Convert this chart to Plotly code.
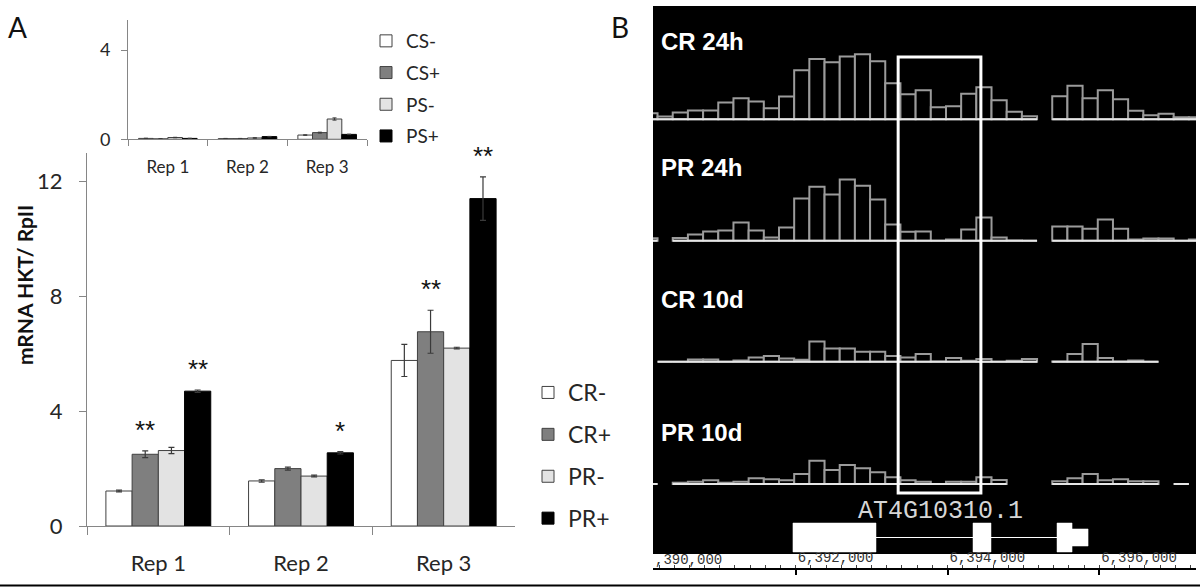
import plotly.graph_objects as go

W, H = 1200, 587

# ---------------- Panel A data ----------------
REPS = ["Rep 1", "Rep 2", "Rep 3"]
Y_TICKS_MAIN = [0, 4, 8, 12]
Y_TICKS_INSET = [0, 4]

ROOT_NAMES = ["CR-", "CR+", "PR-", "PR+"]
CR_MINUS = [1.22, 1.57, 5.77]
CR_MINUS_ERR = [0.03, 0.04, 0.56]
CR_PLUS = [2.50, 2.00, 6.77]
CR_PLUS_ERR = [0.12, 0.05, 0.75]
PR_MINUS = [2.63, 1.74, 6.20]
PR_MINUS_ERR = [0.11, 0.03, 0.03]
PR_PLUS = [4.70, 2.55, 11.41]
PR_PLUS_ERR = [0.04, 0.04, 0.76]
CR_MINUS_SIG = ["", "", ""]
CR_PLUS_SIG = ["**", "", "**"]
PR_MINUS_SIG = ["", "", ""]
PR_PLUS_SIG = ["**", "*", "**"]

SHOOT_NAMES = ["CS-", "CS+", "PS-", "PS+"]
CS_MINUS = [0.04, 0.03, 0.19]
CS_MINUS_ERR = [0.01, 0.01, 0.01]
CS_PLUS = [0.02, 0.03, 0.30]
CS_PLUS_ERR = [0.01, 0.01, 0.02]
PS_MINUS = [0.08, 0.06, 0.91]
PS_MINUS_ERR = [0.01, 0.01, 0.05]
PS_PLUS = [0.04, 0.12, 0.22]
PS_PLUS_ERR = [0.01, 0.01, 0.01]

# ---------------- Panel B data ----------------
TRACK_NAMES = ["CR 24h", "PR 24h", "CR 10d", "PR 10d"]
BIN_START = 6389980
BIN_SIZE = 200
CR_24H = [6, 2.7, 6.7, 8.7, 8.7, 16.7, 21, 17.7, 11, 22.7, 49, 60.3, 57, 62.7, 65, 58, 36,
          25, 29, 12, 13, 25.6, 32, 19, 7.6, 3, None, 23, 33.6, 21, 29, 20, 8.6, 4, 5.6, 2, 2]
PR_24H = [2.5, None, 2.7, 6.3, 9.3, 10.3, 18.3, 10.3, 3.3, 13.3, 42.3, 54, 46.3, 61.3, 55, 41.3, 16.3,
          9, 9.3, 0, 1.3, 11.3, 23.3, 3.3, 0.3, 0, None, 14.3, 14.3, 12, 21.3, 12, 1.3, 2.3, 2.3, 0, 1.3]
CR_10D = [None, 0, 0, 2.3, 2.3, 0, 1.3, 4.3, 5.7, 3.3, 2, 20.3, 13.3, 13.3, 10, 10, 5.7,
          4.3, 7.7, 0.3, 3.7, 1, 2.7, 0, 1, 2.7, None, 0.3, 7.7, 17.7, 3.7, 0.3, 1.3, 0, None, None, None]
PR_10D = [0, None, 1.3, 2.3, 3.7, 1.3, 2.3, 5.7, 4.7, 3.7, 10, 23.3, 14, 19, 15.7, 11.7, 6.7,
          3.7, 2.3, 0, 2.3, 2.3, 6.7, 4, None, None, None, 2.7, 5.7, 10, 3.7, 4.7, 2.7, 2.7, None, 0, None]
TRACK_VALUES = [CR_24H, PR_24H, CR_10D, PR_10D]

GENE_NAME = "AT4G10310.1"
EXON_STARTS = [6391964, 6394336, 6395443]
EXON_ENDS = [6393058, 6394573, 6395641]
UTR_STARTS = [6395641]
UTR_ENDS = [6395852]
HIGHLIGHT = [6393350, 6394440]
VIEW_RANGE = [6390120, 6397274]
RULER_TICKS = [6392000, 6394000, 6396000]
RULER_LABELS = ["6,392,000", "6,394,000", "6,396,000"]
CLIPPED_LABEL = ",390,000"


def px(p):
    return p / W


def py(p):
    return 1 - p / H


FONT = "Lato"
TXT = "#262626"
AX = "#868686"
FILLS = ["#ffffff", "#7f7f7f", "#e3e3e3", "#000000"]
OUTL = ["#404040", "#404040", "#404040", "#000000"]

fig = go.Figure()
annotations = []
shapes = []

# ---------------- main chart ----------------
root_vals = [CR_MINUS, CR_PLUS, PR_MINUS, PR_PLUS]
root_errs = [CR_MINUS_ERR, CR_PLUS_ERR, PR_MINUS_ERR, PR_PLUS_ERR]
root_sigs = [CR_MINUS_SIG, CR_PLUS_SIG, PR_MINUS_SIG, PR_PLUS_SIG]
BARGAP = 0.265
bw = (1 - BARGAP) / 4
for j, name in enumerate(ROOT_NAMES):
    fig.add_trace(go.Bar(
        x=REPS, y=root_vals[j], name=name, xaxis="x", yaxis="y",
        marker=dict(color=FILLS[j], line=dict(color=OUTL[j], width=1)),
        error_y=dict(type="data", array=root_errs[j], color="#3a3a3a", thickness=1.2, width=3),
        legend="legend", legendgroup="r" + name,
    ))
    for i, s in enumerate(root_sigs[j]):
        if s:
            annotations.append(dict(
                x=i - (1 - BARGAP) / 2 + bw * (j + 0.5), y=root_vals[j][i] + root_errs[j][i],
                xref="x", yref="y", text=s, showarrow=False, xanchor="center", yanchor="bottom",
                yshift=4, font=dict(family="Liberation Sans", size=26, color="#111")))

# ---------------- inset chart ----------------
sh_vals = [CS_MINUS, CS_PLUS, PS_MINUS, PS_PLUS]
sh_errs = [CS_MINUS_ERR, CS_PLUS_ERR, PS_MINUS_ERR, PS_PLUS_ERR]
for j, name in enumerate(SHOOT_NAMES):
    fig.add_trace(go.Bar(
        x=REPS, y=sh_vals[j], name=name, xaxis="x2", yaxis="y2",
        marker=dict(color=FILLS[j], line=dict(color=OUTL[j], width=1)),
        error_y=dict(type="data", array=sh_errs[j], color="#3a3a3a", thickness=1, width=2),
        legend="legend2", legendgroup="s" + name,
    ))

# ---------------- panel B tracks ----------------
BASELINES = [119.3, 240.7, 361.7, 484.0]
TRACK_LABEL_Y = [41.5, 167.5, 299.0, 432.5]
edges = lambda j: BIN_START + BIN_SIZE * j
for t, vals in enumerate(TRACK_VALUES):
    yname = "y%d" % (3 + t)
    xs, ys = [], []
    run = None
    for j, v in enumerate(list(vals) + [None]):
        if v is not None and run is None:
            run = j
        if v is None and run is not None:
            xs += [edges(run), edges(j), None]
            ys += [0, 0, None]
            run = None
    fig.add_trace(go.Scatter(x=xs, y=ys, mode="lines", xaxis="x3", yaxis=yname,
                             line=dict(color="#e6e6e6", width=2), showlegend=False, hoverinfo="skip"))
    centers = [edges(j) + BIN_SIZE / 2 for j in range(len(vals))]
    fig.add_trace(go.Bar(x=centers, y=vals, width=BIN_SIZE, xaxis="x3", yaxis=yname,
                         marker=dict(color="#000000", line=dict(color="#9b9b9b", width=2)),
                         showlegend=False))
    annotations.append(dict(x=px(659), y=py(TRACK_LABEL_Y[t]), xref="paper", yref="paper",
                            xanchor="left", yanchor="middle", text=TRACK_NAMES[t], showarrow=False,
                            font=dict(family="Liberation Sans", size=24, color="white", weight="bold")))

# gene model
gx, gy = [], []
for s, e in zip(EXON_STARTS, EXON_ENDS):
    gx += [s, e, e, s, s, None]
    gy += [-1, -1, 1, 1, -1, None]
for s, e in zip(UTR_STARTS, UTR_ENDS):
    gx += [s, e, e, s, s, None]
    gy += [-0.59, -0.59, 0.59, 0.59, -0.59, None]
ix, iy = [], []
for k in range(len(EXON_STARTS) - 1):
    ix += [EXON_ENDS[k], EXON_STARTS[k + 1], None]
    iy += [0, 0, None]
fig.add_trace(go.Scatter(x=ix, y=iy, mode="lines", xaxis="x3", yaxis="y7",
                         line=dict(color="white", width=1.2), showlegend=False, hoverinfo="skip"))
fig.add_trace(go.Scatter(x=gx, y=gy, mode="lines", fill="toself", fillcolor="white", xaxis="x3", yaxis="y7",
                         line=dict(color="white", width=0.5), showlegend=False, hoverinfo="skip"))
gene_mid = (min(EXON_STARTS + UTR_STARTS) + max(EXON_ENDS + UTR_ENDS)) / 2
annotations.append(dict(x=gene_mid, y=py(511), xref="x3", yref="paper", text=GENE_NAME, showarrow=False,
                        xanchor="center", yanchor="middle",
                        font=dict(family="Liberation Mono", size=25, color="#d6d6d6")))
annotations.append(dict(x=px(653), y=py(560), xref="paper", yref="paper", text=CLIPPED_LABEL,
                        showarrow=False, xanchor="left", yanchor="middle",
                        font=dict(family="Liberation Mono", size=14, color="#333")))

# black panel background
shapes.append(dict(type="rect", xref="paper", yref="paper", x0=px(653), x1=px(1196), y0=py(554), y1=py(6),
                   fillcolor="black", line=dict(width=0), layer="below"))
# highlight box
shapes.append(dict(type="rect", xref="x3", yref="paper", x0=HIGHLIGHT[0], x1=HIGHLIGHT[1],
                   y0=py(493), y1=py(57), line=dict(color="white", width=3), layer="above"))
# bottom border
shapes.append(dict(type="line", xref="paper", yref="paper", x0=0, x1=1, y0=py(585.5), y1=py(585.5),
                   line=dict(color="black", width=2)))

# panel labels and y title
annotations.append(dict(x=px(17), y=py(27), xref="paper", yref="paper", text="A", showarrow=False,
                        xanchor="center", yanchor="middle", font=dict(family=FONT, size=28, color="#111")))
annotations.append(dict(x=px(620), y=py(27), xref="paper", yref="paper", text="B", showarrow=False,
                        xanchor="center", yanchor="middle", font=dict(family=FONT, size=28, color="#111")))
annotations.append(dict(x=px(24), y=py(285), xref="paper", yref="paper", text="mRNA HKT/ RpII",
                        textangle=-90, showarrow=False, xanchor="center", yanchor="middle",
                        font=dict(family=FONT, size=21, color="#111", weight="bold")))

layout = dict(
    width=W, height=H, margin=dict(l=0, r=0, t=0, b=0, autoexpand=False),
    paper_bgcolor="white", plot_bgcolor="rgba(0,0,0,0)",
    barmode="group", bargap=BARGAP, bargroupgap=0,
    showlegend=True,
    font=dict(family=FONT, color=TXT),
    xaxis=dict(domain=[px(87), px(515)], anchor="y", type="category", showline=True, linecolor=AX,
               linewidth=1, ticks="outside", tickson="boundaries", ticklen=8, tickcolor=AX,
               ticklabelstandoff=18, automargin=False,
               tickfont=dict(family=FONT, size=22, color=TXT), showgrid=False),
    yaxis=dict(domain=[py(526), py(153)], anchor="x", range=[0, 13], tickvals=Y_TICKS_MAIN,
               showline=True, linecolor=AX, linewidth=1, ticks="outside", ticklen=7, tickcolor=AX,
               ticklabelstandoff=12, automargin=False,
               tickfont=dict(family=FONT, size=22, color=TXT), showgrid=False, zeroline=False),
    xaxis2=dict(domain=[px(128), px(367)], anchor="y2", type="category", showline=True, linecolor=AX,
                linewidth=1, ticks="outside", tickson="boundaries", ticklen=6, tickcolor=AX,
                ticklabelstandoff=12, automargin=False,
                tickfont=dict(family=FONT, size=17, color=TXT), showgrid=False),
    yaxis2=dict(domain=[py(139.3), py(20)], anchor="x2", range=[0, 5.35], tickvals=Y_TICKS_INSET,
                showline=True, linecolor=AX, linewidth=1, ticks="outside", ticklen=6, tickcolor=AX,
                ticklabelstandoff=7, automargin=False,
                tickfont=dict(family=FONT, size=18, color=TXT), showgrid=False, zeroline=False),
    xaxis3=dict(domain=[px(653), px(1196)], anchor="free", position=py(569), side="top",
                range=VIEW_RANGE, tickmode="array", tickvals=RULER_TICKS, ticktext=RULER_LABELS,
                ticklabelposition="outside right", showline=True, linecolor="black", linewidth=2,
                ticks="inside", ticklen=5, tickwidth=2, tickcolor="black", automargin=False,
                minor=dict(tickmode="linear", tick0=RULER_TICKS[0], dtick=BIN_SIZE, ticks="outside",
                           ticklen=3, tickcolor="#444", tickwidth=1),
                tickfont=dict(family="Liberation Mono", size=14, color="#333"),
                showgrid=False, zeroline=False),
    legend=dict(x=px(528), y=py(371), xanchor="left", yanchor="top", bgcolor="rgba(0,0,0,0)",
                font=dict(family=FONT, size=23, color=TXT), tracegroupgap=9, itemwidth=30),
    legend2=dict(x=px(366), y=py(22), xanchor="left", yanchor="top", bgcolor="rgba(0,0,0,0)",
                 font=dict(family=FONT, size=19, color=TXT), tracegroupgap=4, itemwidth=30),
    annotations=annotations, shapes=shapes,
)
for t, base in enumerate(BASELINES):
    layout["yaxis%d" % (3 + t)] = dict(domain=[py(base + 4), py(base - 76)], range=[-4, 76],
                                       anchor="x3", visible=False, fixedrange=True, automargin=False)
layout["yaxis7"] = dict(domain=[py(537.5 + 16.5), py(537.5 - 16.5)], range=[-16.5 / 14.5, 16.5 / 14.5],
                        anchor="x3", visible=False, automargin=False)
fig.update_layout(**layout)

fig.write_html("out.html", config={"displayModeBar": False},
               post_script="document.body.style.margin='0';document.body.style.overflow='hidden';")
